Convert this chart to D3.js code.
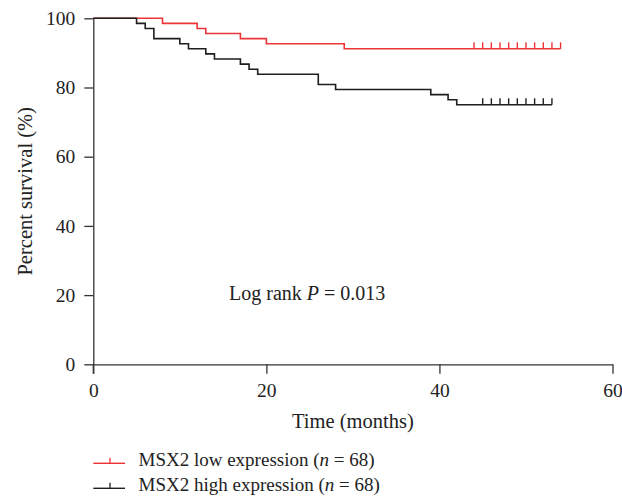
<!DOCTYPE html>
<html>
<head>
<meta charset="utf-8">
<script src="https://cdn.jsdelivr.net/npm/d3@7.9.0/dist/d3.min.js"></script>
<style>
  body { margin: 0; background: #fff; }
  svg text { font-family: "Liberation Serif", "DejaVu Serif", serif; fill: #222; }
</style>
</head>
<body>
<div id="chart"></div>
<script>
// survival steps: [month, percent]
const lowSteps = [[0, 100], [8, 98.53], [12, 97.06], [13, 95.59], [17, 94.12], [20, 92.65], [29, 91.18], [54, 91.18]];
const highSteps = [[0, 100], [5, 98.53], [6, 97.06], [7, 94.12], [10, 92.65], [11, 91.18], [13, 89.71], [14, 88.24],
  [17, 86.76], [18, 85.29], [19, 83.82], [26, 80.88], [28, 79.41], [39, 77.94], [41, 76.47], [42, 75.0], [53, 75.0]];
const lowCensor = [44, 45, 46, 47, 48, 49, 50, 51, 52, 53, 54];
const highCensor = [45, 46, 47, 48, 49, 50, 51, 52, 53];
const xTicks = [0, 20, 40, 60];
const yTicks = [0, 20, 40, 60, 80, 100];
const seriesNames = ['MSX2 low expression', 'MSX2 high expression'];
const seriesN = [68, 68];
const colors = ['#ec3437', '#1e1e1e'];

const width = 622, height = 498;
const svg = d3.select('#chart').append('svg')
  .attr('width', width).attr('height', height);

const x = d3.scaleLinear().domain([0, 60]).range([93.3, 612.5]);
const y = d3.scaleLinear().domain([0, 100]).range([364.3, 18.3]);

// axes
const xAxis = svg.append('g')
  .attr('transform', `translate(0,${y(0)})`)
  .call(d3.axisBottom(x).tickValues(xTicks).tickSize(9.5).tickPadding(9.5).tickSizeOuter(0));
const yAxis = svg.append('g')
  .attr('transform', `translate(${x(0)},0)`)
  .call(d3.axisLeft(y).tickValues(yTicks).tickSize(9).tickPadding(9).tickSizeOuter(0));

[xAxis, yAxis].forEach(g => {
  g.selectAll('.domain').attr('stroke', '#333').attr('stroke-width', 1.3);
  g.selectAll('.tick line').attr('stroke', '#333').attr('stroke-width', 1.3);
  g.selectAll('.tick text').style('font-size', '19.5px')
    .style('font-family', '"Liberation Serif", serif').attr('fill', '#222');
});
// y axis extends down through x axis tick area
yAxis.append('line').attr('x1', 0).attr('x2', 0).attr('y1', y(0)).attr('y2', y(0) + 9.5)
  .attr('stroke', '#333').attr('stroke-width', 1.3);

// curves
const line = d3.line().x(d => x(d[0])).y(d => y(d[1])).curve(d3.curveStepAfter);
const series = [
  { steps: lowSteps, censor: lowCensor, color: colors[0] },
  { steps: highSteps, censor: highCensor, color: colors[1] }
];
series.forEach(s => {
  svg.append('path').datum(s.steps)
    .attr('d', line).attr('fill', 'none')
    .attr('stroke', s.color).attr('stroke-width', 1.6);
  const last = s.steps[s.steps.length - 1][1];
  svg.append('g').selectAll('line').data(s.censor).join('line')
    .attr('x1', d => x(d)).attr('x2', d => x(d))
    .attr('y1', y(last)).attr('y2', y(last) - 6.5)
    .attr('stroke', s.color).attr('stroke-width', 1.4);
});

// axis titles
svg.append('text')
  .attr('x', (x(0) + x(60)) / 2).attr('y', 428)
  .attr('text-anchor', 'middle').style('font-size', '20.5px')
  .text('Time (months)');
svg.append('text')
  .attr('transform', `translate(32,${(y(0) + y(100)) / 2}) rotate(-90)`)
  .attr('text-anchor', 'middle').style('font-size', '20.5px')
  .text('Percent survival (%)');

// log rank annotation
const lr = svg.append('text').attr('x', 229).attr('y', 300).style('font-size', '20px');
lr.append('tspan').text('Log rank ');
lr.append('tspan').style('font-style', 'italic').text('P');
lr.append('tspan').text(' = 0.013');

// legend
seriesNames.forEach((name, i) => {
  const ly = 463.3 + i * 25;
  const g = svg.append('g');
  g.append('line').attr('x1', 93.3).attr('x2', 125).attr('y1', ly).attr('y2', ly)
    .attr('stroke', colors[i]).attr('stroke-width', 1.4);
  g.append('line').attr('x1', 110).attr('x2', 110).attr('y1', ly).attr('y2', ly - 5.5)
    .attr('stroke', colors[i]).attr('stroke-width', 1.3);
  const t = g.append('text').attr('x', 138.5).attr('y', ly + 2.8).style('font-size', '19px');
  t.append('tspan').text(name + ' (');
  t.append('tspan').style('font-style', 'italic').text('n');
  t.append('tspan').text(' = ' + seriesN[i] + ')');
});
</script>
</body>
</html>
